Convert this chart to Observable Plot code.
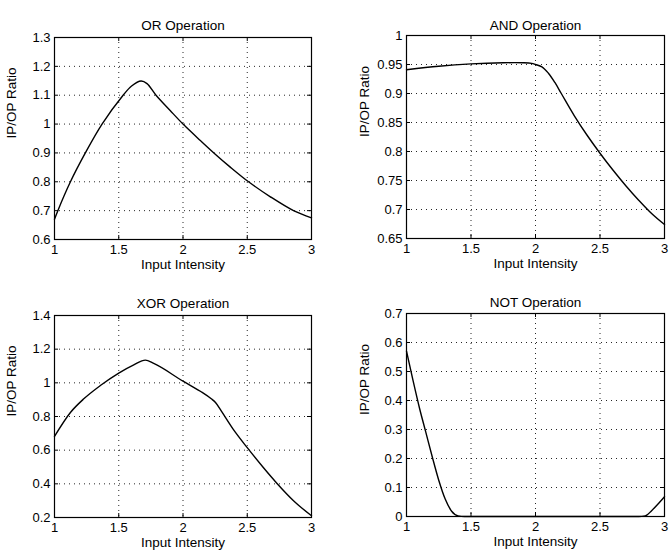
<!DOCTYPE html>
<html><head><meta charset="utf-8">
<script src="https://cdn.jsdelivr.net/npm/d3@7"></script>
<script src="https://cdn.jsdelivr.net/npm/@observablehq/plot@0.6"></script>
<style>
body{margin:0;background:#fff;}
#wrap{position:relative;width:672px;height:550px;overflow:hidden;background:#fff;}
#wrap > svg{position:absolute;}
</style></head><body><div id="wrap"></div>
<script>
const xTicks = [1, 1.5, 2, 2.5, 3];
const xLabel = "Input Intensity";
const yLabel = "IP/OP Ratio";

const orX = [1.0, 1.026, 1.124, 1.24, 1.37, 1.534, 1.6, 1.674, 1.72, 1.79, 1.9, 2.0, 2.135, 2.24, 2.37, 2.51, 2.68, 2.86, 3.0];
const orY = [0.67, 0.7, 0.8, 0.9, 1.0, 1.1, 1.132, 1.149, 1.14, 1.1, 1.047, 1.0, 0.943, 0.9, 0.85, 0.8, 0.748, 0.7, 0.675];
const orTicks = [0.6, 0.7, 0.8, 0.9, 1, 1.1, 1.2, 1.3];

const andX = [1.0, 1.25, 1.5, 1.75, 1.9, 1.97, 2.0, 2.05, 2.1, 2.15, 2.2, 2.3, 2.4, 2.5, 2.6, 2.7, 2.8, 2.9, 3.0];
const andY = [0.941, 0.947, 0.951, 0.953, 0.953, 0.952, 0.95, 0.946, 0.935, 0.919, 0.9, 0.862, 0.828, 0.797, 0.768, 0.741, 0.716, 0.693, 0.674];
const andTicks = [0.65, 0.7, 0.75, 0.8, 0.85, 0.9, 0.95, 1];

const xorX = [1.0, 1.124, 1.228, 1.357, 1.5, 1.617, 1.707, 1.772, 2.0, 2.135, 2.22, 2.253, 2.3, 2.39, 2.5, 2.625, 2.73, 2.86, 3.0];
const xorY = [0.682, 0.824, 0.905, 0.984, 1.058, 1.107, 1.135, 1.115, 1.01, 0.95, 0.905, 0.883, 0.83, 0.725, 0.615, 0.497, 0.404, 0.3, 0.21];
const xorTicks = [0.2, 0.4, 0.6, 0.8, 1, 1.2, 1.4];

const notX = [1.0, 1.05, 1.1, 1.15, 1.2, 1.25, 1.3, 1.35, 1.4, 1.45, 1.6, 2.0, 2.4, 2.8, 2.85, 2.9, 2.95, 3.0];
const notY = [0.57, 0.47, 0.375, 0.29, 0.205, 0.125, 0.06, 0.018, 0.002, 0.0, 0.0, 0.0, 0.0, 0.0, 0.002, 0.02, 0.043, 0.068];
const notTicks = [0, 0.1, 0.2, 0.3, 0.4, 0.5, 0.6, 0.7];

const panels = [
  {title: "OR Operation",  xs: orX,  ys: orY,  yTicks: orTicks,  curve: "catmull-rom", left: 0,   top: 0,   w: 336, h: 280, mt: 37, mb: 41, ml: 54, mr: 25, tdy: -17, ldx: -43},
  {title: "AND Operation", xs: andX, ys: andY, yTicks: andTicks, curve: "catmull-rom", left: 336, top: 0,   w: 336, h: 280, mt: 35, mb: 42, ml: 70, mr: 8,  tdy: -15, ldx: -42},
  {title: "XOR Operation", xs: xorX, ys: xorY, yTicks: xorTicks, curve: "monotone-x",  left: 0,   top: 280, w: 336, h: 270, mt: 35, mb: 33, ml: 54, mr: 25, tdy: -17, ldx: -43},
  {title: "NOT Operation", xs: notX, ys: notY, yTicks: notTicks, curve: "monotone-x",  left: 336, top: 280, w: 336, h: 270, mt: 33, mb: 34, ml: 70, mr: 8,  tdy: -16, ldx: -42}
];

const fmt = d3.format("~g");
const font = "'Liberation Sans', Arial, Helvetica, sans-serif";
const wrap = document.getElementById("wrap");

for (const p of panels) {
  const data = p.xs.map((x, i) => ({x, y: p.ys[i]}));
  const innerH = p.h - p.mt - p.mb;
  const innerW = p.w - p.ml - p.mr;
  const yDomain = [p.yTicks[0], p.yTicks[p.yTicks.length - 1]];
  const chart = Plot.plot({
    width: p.w,
    height: p.h,
    marginTop: p.mt,
    marginBottom: p.mb,
    marginLeft: p.ml,
    marginRight: p.mr,
    style: {fontFamily: font, fontSize: "13px", color: "#000", background: "#fff", overflow: "visible"},
    x: {domain: [1, 3]},
    y: {domain: yDomain},
    marks: [
      Plot.gridX(xTicks, {stroke: "#000", strokeOpacity: 0.85, strokeDasharray: "1,4"}),
      Plot.gridY(p.yTicks, {stroke: "#000", strokeOpacity: 0.85, strokeDasharray: "1,4"}),
      Plot.ruleX(xTicks, {x: d => d, insetTop: innerH - 4, stroke: "#000"}),
      Plot.ruleX(xTicks, {x: d => d, insetBottom: innerH - 4, stroke: "#000"}),
      Plot.ruleY(p.yTicks, {y: d => d, insetRight: innerW - 4, stroke: "#000"}),
      Plot.ruleY(p.yTicks, {y: d => d, insetLeft: innerW - 4, stroke: "#000"}),
      Plot.frame({stroke: "#000", strokeWidth: 1.2}),
      Plot.axisX(xTicks, {tickSize: 0, tickPadding: 5, tickFormat: fmt, label: null, fontSize: 13}),
      Plot.axisY(p.yTicks, {tickSize: 0, tickPadding: 4, tickFormat: fmt, label: null, fontSize: 13}),
      Plot.line(data, {x: "x", y: "y", curve: p.curve, stroke: "#000", strokeWidth: 1.4}),
      Plot.text([p.title], {frameAnchor: "top", dy: p.tdy, fontSize: 13.5}),
      Plot.text([xLabel], {frameAnchor: "bottom", dy: 29, fontSize: 13.5}),
      Plot.text([yLabel], {frameAnchor: "left", dx: p.ldx, rotate: -90, fontSize: 13.5})
    ]
  });
  chart.style.left = p.left + "px";
  chart.style.top = p.top + "px";
  wrap.appendChild(chart);
}
</script>
</body></html>
